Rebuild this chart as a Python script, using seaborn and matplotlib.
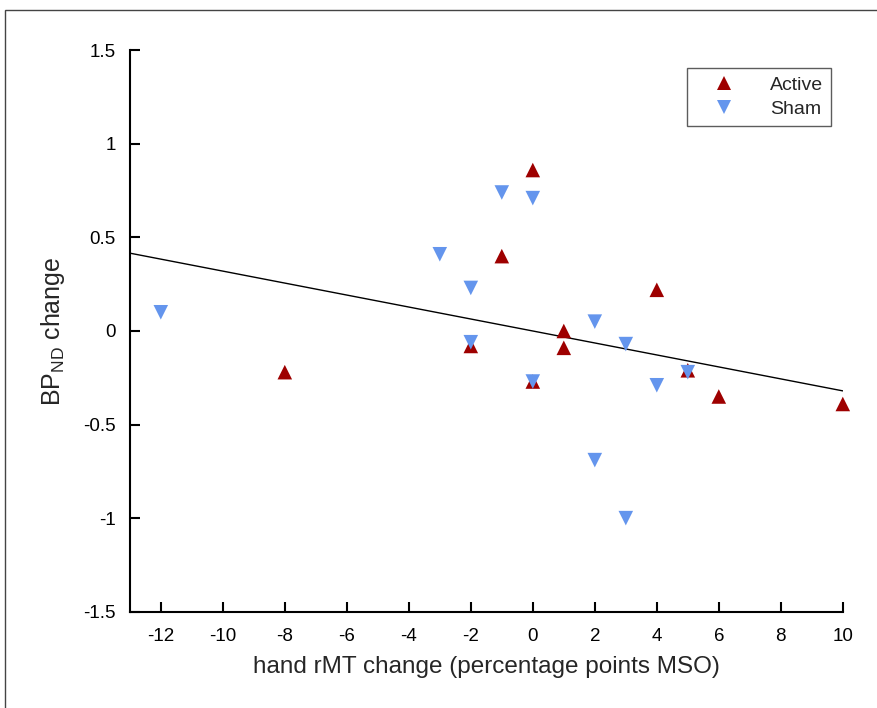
import matplotlib
matplotlib.use('Agg')
import matplotlib.pyplot as plt
import pandas as pd
import seaborn as sns
from matplotlib.lines import TICKUP, TICKRIGHT
from matplotlib.patches import Rectangle
from matplotlib.ticker import FuncFormatter

# data
active_x = [-8, -2, -1, 0, 0, 1, 1, 4, 5, 6, 10]
active_y = [-0.22, -0.08, 0.40, 0.86, -0.27, 0.00, -0.09, 0.22, -0.21, -0.35, -0.39]
sham_x = [-12, -3, -2, -2, -1, 0, 0, 2, 2, 3, 3, 4, 5]
sham_y = [0.10, 0.41, 0.23, -0.06, 0.74, 0.71, -0.27, 0.05, -0.69, -0.07, -1.00, -0.29, -0.22]
fit_slope = -0.032
fit_intercept = 0.0
fit_x = [-13, 10]

x_ticks = [-12, -10, -8, -6, -4, -2, 0, 2, 4, 6, 8, 10]
y_ticks = [-1.5, -1, -0.5, 0, 0.5, 1, 1.5]

df = pd.DataFrame({
    'x': active_x + sham_x,
    'y': active_y + sham_y,
    'group': ['Active'] * len(active_x) + ['Sham'] * len(sham_x),
})
fit_df = pd.DataFrame({'x': fit_x, 'y': [fit_intercept + fit_slope * v for v in fit_x]})

sns.set_style('white')
plt.rcParams['font.family'] = ['Liberation Sans', 'DejaVu Sans']

fig = plt.figure(figsize=(8.77, 7.08), dpi=100)
ax = fig.add_axes([0.148, 0.136, 0.813, 0.793])

sns.lineplot(data=fit_df, x='x', y='y', color='black', linewidth=1, ax=ax)
sns.scatterplot(data=df, x='x', y='y', hue='group', style='group',
                palette={'Active': '#9e0000', 'Sham': '#6495ed'},
                markers={'Active': '^', 'Sham': 'v'},
                s=110, linewidth=0, ax=ax, clip_on=False, zorder=3)

ax.set_xlim(-13, 10)
ax.set_ylim(-1.5, 1.5)
ax.set_xticks(x_ticks)
ax.set_yticks(y_ticks)
fmt = FuncFormatter(lambda v, p: ('%g' % v))
ax.xaxis.set_major_formatter(fmt)
ax.yaxis.set_major_formatter(fmt)
ax.tick_params(axis='x', bottom=True, direction='in', length=7, width=1.5,
               labelsize=13.5, colors='black', pad=12)
ax.tick_params(axis='y', left=True, direction='in', length=7, width=1.5,
               labelsize=13.5, colors='black', pad=10)
for side in ['top', 'right']:
    ax.spines[side].set_visible(False)
for side in ['left', 'bottom']:
    ax.spines[side].set_color('black')
    ax.spines[side].set_linewidth(1.5)

ax.set_xlabel('hand rMT change (percentage points MSO)', fontsize=17.5, labelpad=8)
ax.set_ylabel('BP$_{\\mathregular{ND}}$ change', fontsize=18, labelpad=12)

leg = ax.legend(loc='upper left', bbox_to_anchor=(0.781, 0.968), fontsize=14,
                frameon=True, fancybox=False, edgecolor='#333333', borderaxespad=0,
                handlelength=3.0, handletextpad=0.9, borderpad=0.4, labelspacing=0.35)
leg.get_frame().set_linewidth(1)

# outer frame seen around the figure
fig.patches.append(Rectangle((0.006, -0.1), 1.2, 1.086, transform=fig.transFigure,
                             fill=False, edgecolor='#444444', linewidth=1))

# force the ticks to point into the axes
for t in ax.xaxis.get_major_ticks():
    t.tick1line.set_marker(TICKUP)
for t in ax.yaxis.get_major_ticks():
    t.tick1line.set_marker(TICKRIGHT)

fig.savefig('out.png', dpi=100)
